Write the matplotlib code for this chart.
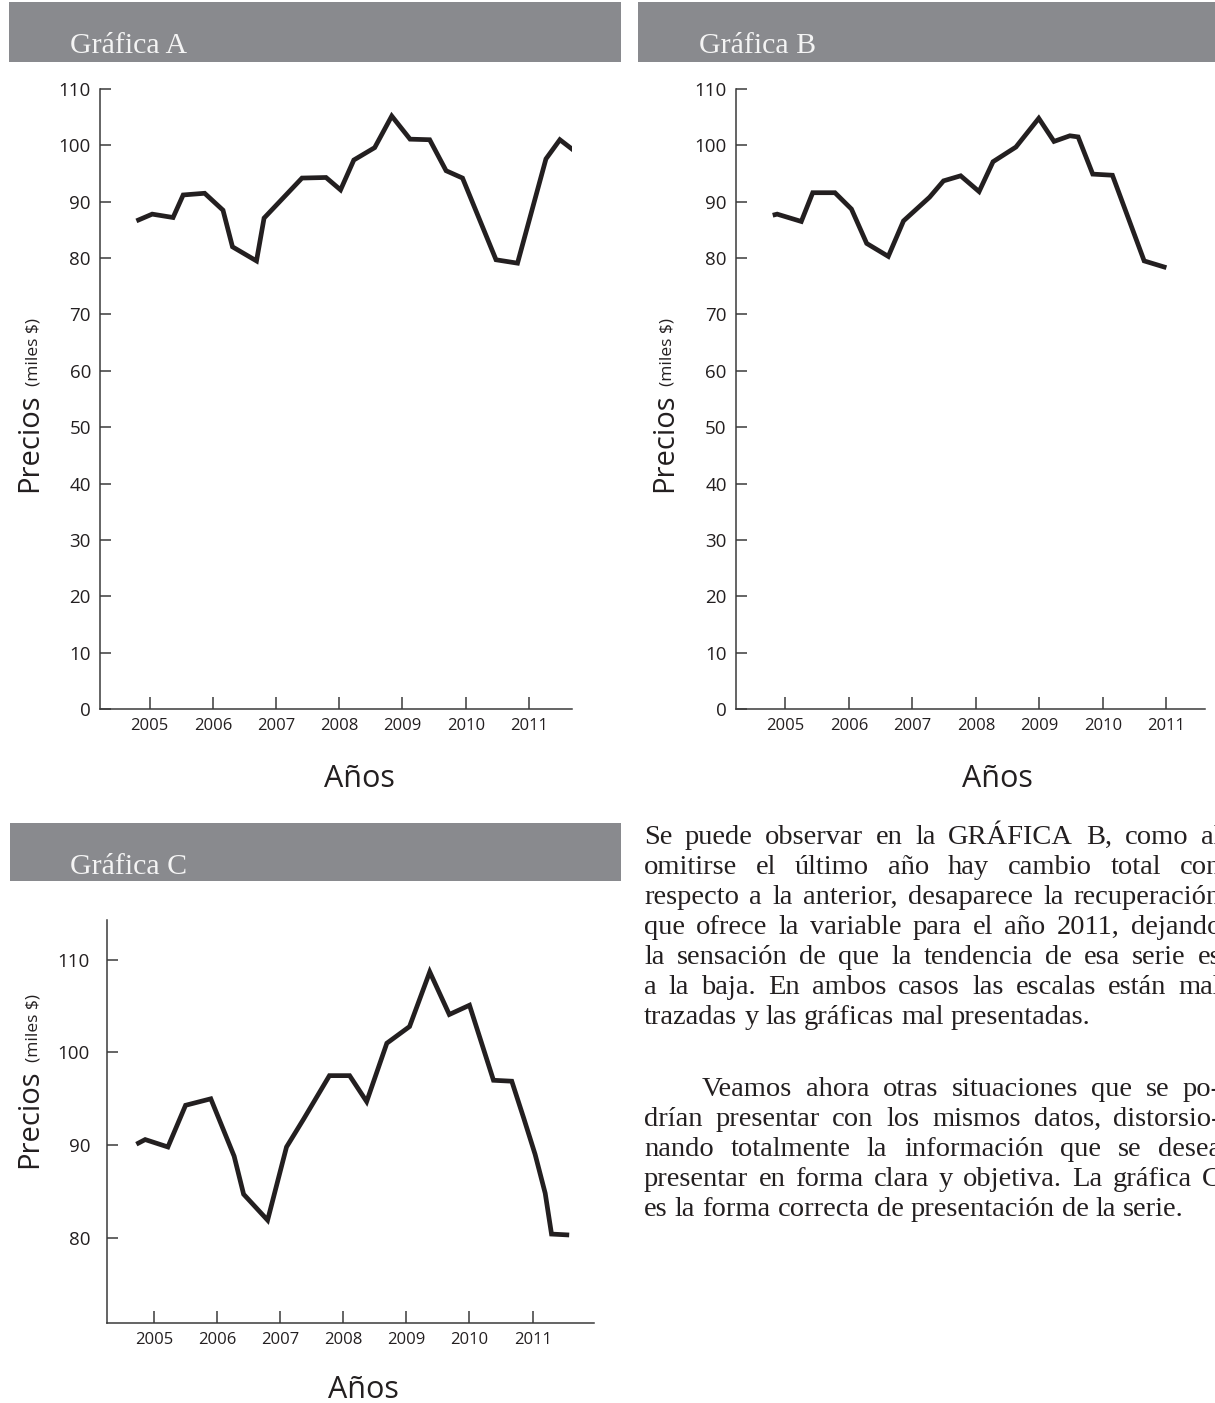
import matplotlib
matplotlib.use("Agg")
import matplotlib.pyplot as plt
from matplotlib.patches import Rectangle

W, H = 1215, 1403
DPI = 100

# ticks
anios = [2005, 2006, 2007, 2008, 2009, 2010, 2011]
yticks_ab = [0, 10, 20, 30, 40, 50, 60, 70, 80, 90, 100, 110]
yticks_c = [80, 90, 100, 110]

# Gráfica A
fecha_a = [2004.79, 2005.04, 2005.37, 2005.53, 2005.87, 2006.16, 2006.31, 2006.69,
           2006.81, 2007.41, 2007.79, 2008.02, 2008.23, 2008.56, 2008.83, 2009.12,
           2009.43, 2009.69, 2009.95, 2010.48, 2010.82, 2011.27, 2011.49, 2011.71]
precio_a = [86.6, 87.8, 87.2, 91.2, 91.5, 88.5, 82.0, 79.5,
            87.1, 94.2, 94.3, 92.1, 97.4, 99.6, 105.2, 101.1,
            101.0, 95.5, 94.2, 79.7, 79.1, 97.6, 101.0, 99.1]

# Gráfica B (sin el último año)
fecha_b = [2004.80, 2004.87, 2005.25, 2005.43, 2005.78, 2006.04, 2006.28, 2006.62,
           2006.86, 2007.27, 2007.49, 2007.76, 2008.05, 2008.27, 2008.63, 2008.99,
           2009.23, 2009.48, 2009.61, 2009.84, 2010.15, 2010.65, 2011.00]
precio_b = [87.6, 87.8, 86.5, 91.6, 91.6, 88.7, 82.6, 80.3,
            86.6, 90.8, 93.7, 94.6, 91.8, 97.1, 99.7, 104.8,
            100.7, 101.7, 101.5, 94.9, 94.7, 79.5, 78.3]

# Gráfica C
fecha_c = [2004.72, 2004.86, 2005.22, 2005.50, 2005.90, 2006.27, 2006.42, 2006.80,
           2007.10, 2007.37, 2007.78, 2008.10, 2008.37, 2008.69, 2009.05, 2009.37,
           2009.68, 2010.00, 2010.38, 2010.67, 2010.86, 2011.04, 2011.20, 2011.30, 2011.58]
precio_c = [90.1, 90.6, 89.8, 94.3, 95.0, 88.8, 84.7, 81.9,
            89.8, 92.8, 97.5, 97.5, 94.7, 101.0, 102.8, 108.7,
            104.1, 105.1, 97.0, 96.9, 92.9, 89.0, 84.8, 80.4, 80.3]

parrafos = [
    (["Se puede observar en la GRÁFICA B, como al",
      "omitirse el último año hay cambio total con",
      "respecto a la anterior, desaparece la recuperación",
      "que ofrece la variable para el año 2011, dejando",
      "la sensación de que la tendencia de esa serie es",
      "a la baja. En ambos casos las escalas están mal",
      "trazadas y las gráficas mal presentadas."], 0),
    (["Veamos ahora otras situaciones que se po-",
      "drían presentar con los mismos datos, distorsio-",
      "nando totalmente la información que se desea",
      "presentar en forma clara y objetiva. La gráfica C",
      "es la forma correcta de presentación de la serie."], 58),
]

INK = '#231f20'
EJE = '#3a3a3a'
GRIS = '#898a8e'
SANS = 'Open Sans'
SERIF = 'Liberation Serif'

plt.rcParams['font.family'] = [SANS, 'DejaVu Sans']

fig = plt.figure(figsize=(W / DPI, H / DPI), dpi=DPI)


def fx(x):
    return x / W


def fy(y):
    return 1 - y / H


def caja(left, top, right, bottom):
    return fig.add_axes([fx(left), fy(bottom), (right - left) / W, (bottom - top) / H])


def cabecera(left, top, right, bottom, titulo, x_txt, base_txt):
    fig.add_artist(Rectangle((fx(left), fy(bottom)), (right - left) / W, (bottom - top) / H,
                             transform=fig.transFigure, color=GRIS, lw=0))
    fig.text(fx(x_txt), fy(base_txt), titulo, family=SERIF, size=21.5,
             color='#f4f4f4', ha='left', va='baseline')


def grafica(ax, x, y, xlim, ylim, yticks, ypad):
    ax.plot(x, y, color=INK, lw=3.4, solid_joinstyle='miter', solid_capstyle='butt')
    ax.set_xlim(xlim)
    ax.set_ylim(ylim)
    ax.set_xticks(anios)
    ax.set_yticks(yticks)
    for s in ['top', 'right']:
        ax.spines[s].set_visible(False)
    for s in ['left', 'bottom']:
        ax.spines[s].set_color(EJE)
        ax.spines[s].set_linewidth(1.1)
    ax.tick_params(direction='in', width=1.1, color=EJE, labelcolor=INK)
    ax.tick_params(axis='x', length=8.5, pad=6.5, labelsize=12)
    ax.tick_params(axis='y', length=7.8, pad=ypad, labelsize=13.5)
    ax.patch.set_alpha(0)


def etiqueta_y(x_base, y_inicio, renderer):
    t1 = fig.text(fx(x_base), fy(y_inicio), 'Precios', size=21, color=INK,
                  rotation=90, rotation_mode='anchor', ha='left', va='baseline')
    alto = t1.get_window_extent(renderer).height
    fig.text(fx(x_base), fy(y_inicio - alto - 7), '(miles $)', size=12.5, color=INK,
             rotation=90, rotation_mode='anchor', ha='left', va='baseline')


# cabeceras
cabecera(9, 2, 621, 62, 'Gráfica A', 70, 53)
cabecera(638, 2, 1215, 62, 'Gráfica B', 699, 53)
cabecera(10, 823, 621, 881, 'Gráfica C', 70, 874)

ax_a = caja(100, 89, 572, 709)
grafica(ax_a, fecha_a, precio_a, (2004.214, 2011.682), (0, 110), yticks_ab, 6.5)

ax_b = caja(735.7, 89, 1205, 709)
grafica(ax_b, fecha_b, precio_b, (2004.217, 2011.608), (0, 110), yticks_ab, 6.5)

ax_c = caja(106.7, 920, 594.3, 1323)
grafica(ax_c, fecha_c, precio_c, (2004.25, 2011.978), (70.8, 114.3), yticks_c, 12)

fig.text(fx(359), fy(787), 'Años', size=22, color=INK, ha='center', va='baseline')
fig.text(fx(997), fy(787), 'Años', size=22, color=INK, ha='center', va='baseline')
fig.text(fx(363), fy(1398), 'Años', size=22, color=INK, ha='center', va='baseline')

renderer = fig.canvas.get_renderer()
etiqueta_y(37, 492, renderer)
etiqueta_y(672, 492, renderer)
etiqueta_y(37, 1168, renderer)

# texto justificado, cortado por el borde derecho
X0, X1 = 644, 1221
BASE0, LINEA, SEP = 844, 30.0, 2.4
TAM = 20.5
espacio = 0.25 * TAM * DPI / 72

base = BASE0
for p, (lineas, sangria) in enumerate(parrafos):
    if p > 0:
        base += LINEA * (SEP - 1)
    for i, linea in enumerate(lineas):
        x_ini = X0 + (sangria if i == 0 else 0)
        palabras = linea.split(' ')
        textos = [fig.text(0, 0, w, family=SERIF, size=TAM, color=INK,
                           ha='left', va='baseline') for w in palabras]
        anchos = [t.get_window_extent(renderer).width for t in textos]
        ultima = i == len(lineas) - 1
        if ultima or len(palabras) == 1:
            hueco = espacio
        else:
            hueco = (X1 - x_ini - sum(anchos)) / (len(palabras) - 1)
        x = x_ini
        for t, a in zip(textos, anchos):
            t.set_position((fx(x), fy(base)))
            x += a + hueco
        base += LINEA

fig.savefig('out.png', dpi=DPI)
